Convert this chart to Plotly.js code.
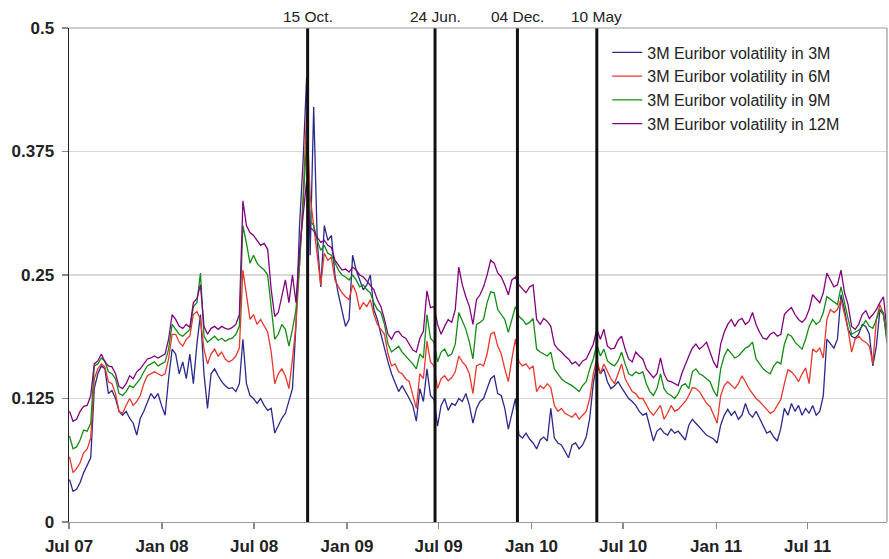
<!DOCTYPE html>
<html>
<head>
<meta charset="utf-8">
<script src="https://cdn.plot.ly/plotly-3.0.1.min.js"></script>
<style>html,body{margin:0;padding:0;background:#fff;}#chart{width:889px;height:559px;}</style>
</head>
<body>
<div id="chart"></div>
<script>
// Weekly observations starting 2 Jul 2007
const startDate = '2007-07-02';
const stepDays = 7;

const vol3M = [
0.043,0.031,0.033,0.040,0.050,0.057,0.065,
0.135,0.150,0.158,0.155,0.130,0.133,
0.125,0.112,0.108,0.112,0.105,0.100,0.088,0.105,0.112,0.122,0.130,0.125,0.130,0.118,0.108,0.145,0.175,
0.170,0.150,0.162,0.145,0.170,0.140,0.180,0.210,0.150,0.115,0.150,0.155,0.148,0.142,0.138,0.135,0.136,0.132,0.140,0.185,0.140,0.128,0.125,0.120,0.125,0.118,0.113,0.115,0.090,0.098,
0.105,0.110,0.122,0.135,0.200,0.300,0.365,0.450,0.270,0.420,0.285,0.238,0.300,0.285,0.290,0.250,0.230,0.215,0.198,0.205,0.270,0.255,0.245,0.235,0.240,0.250,0.215,0.205,0.190,
0.175,0.162,0.150,0.140,0.132,0.138,0.132,0.125,0.118,0.102,0.135,0.122,0.155,0.128,0.124,0.097,0.118,0.125,0.113,0.120,0.118,0.125,0.122,0.130,0.118,0.100,0.115,0.122,0.125,0.135,
0.145,0.148,0.130,0.128,0.115,0.094,0.110,0.125,0.088,0.085,0.090,0.084,0.080,0.074,0.083,0.086,0.082,0.115,0.085,0.080,0.078,0.072,0.065,0.078,0.080,0.074,0.078,0.086,0.105,0.140,
0.160,0.150,0.155,0.142,0.135,0.138,0.142,0.136,0.130,0.125,0.122,0.118,0.112,0.108,0.110,0.095,0.082,0.092,0.095,0.090,0.088,0.094,0.090,0.092,0.088,0.083,0.098,0.104,0.100,0.096,
0.092,0.088,0.086,0.084,0.080,0.098,0.108,0.114,0.108,0.112,0.104,0.108,0.120,0.110,0.106,0.112,0.105,0.098,0.090,0.092,0.086,0.082,0.095,0.115,0.108,0.120,0.112,0.118,0.108,0.115,
0.110,0.118,0.108,0.112,0.128,0.185,0.180,0.176,0.185,0.230,0.215,0.195,0.188,0.186,0.190,0.200,0.198,0.190,0.158,0.178,0.215,0.210,0.188
];

const vol6M = [
0.066,0.050,0.054,0.060,0.070,0.074,0.085,
0.145,0.155,0.160,0.157,0.142,0.140,
0.130,0.112,0.110,0.118,0.125,0.118,0.122,0.128,0.140,0.148,0.150,0.152,0.150,0.148,0.150,0.165,0.190,
0.190,0.182,0.178,0.185,0.188,0.210,0.213,0.205,0.175,0.160,0.170,0.175,0.168,0.172,0.165,0.162,0.164,0.168,0.176,0.255,0.228,0.205,0.210,0.200,0.205,0.198,0.192,0.172,0.140,0.150,
0.155,0.148,0.135,0.165,0.200,0.260,0.330,0.415,0.330,0.300,0.270,0.240,0.272,0.265,0.268,0.245,0.238,0.232,0.228,0.225,0.240,0.232,0.215,0.222,0.218,0.225,0.210,0.200,0.195,
0.190,0.170,0.158,0.160,0.152,0.150,0.145,0.142,0.128,0.115,0.150,0.145,0.183,0.162,0.158,0.135,0.145,0.148,0.143,0.146,0.152,0.168,0.162,0.158,0.150,0.130,0.158,0.160,0.158,0.170,
0.190,0.192,0.178,0.170,0.155,0.142,0.165,0.185,0.162,0.158,0.160,0.155,0.158,0.132,0.138,0.135,0.140,0.136,0.118,0.112,0.115,0.110,0.108,0.106,0.110,0.104,0.108,0.112,0.125,0.150,
0.165,0.150,0.160,0.152,0.145,0.140,0.150,0.160,0.145,0.138,0.132,0.130,0.125,0.125,0.118,0.112,0.108,0.113,0.118,0.104,0.110,0.118,0.112,0.114,0.118,0.122,0.128,0.136,0.135,0.132,
0.126,0.120,0.117,0.108,0.100,0.128,0.138,0.142,0.138,0.135,0.140,0.148,0.142,0.135,0.130,0.125,0.122,0.118,0.113,0.110,0.112,0.118,0.124,0.140,0.154,0.152,0.148,0.142,0.150,0.156,
0.140,0.175,0.172,0.176,0.166,0.205,0.215,0.212,0.215,0.225,0.210,0.195,0.172,0.185,0.188,0.184,0.182,0.178,0.160,0.205,0.220,0.210,0.184
];

const vol9M = [
0.087,0.074,0.076,0.083,0.093,0.092,0.100,
0.158,0.160,0.166,0.163,0.152,0.150,
0.145,0.130,0.128,0.132,0.138,0.136,0.140,0.145,0.152,0.158,0.160,0.162,0.158,0.160,0.162,0.175,0.200,
0.195,0.190,0.188,0.192,0.195,0.218,0.222,0.252,0.188,0.182,0.185,0.188,0.184,0.186,0.183,0.185,0.186,0.190,0.198,0.300,0.282,0.262,0.270,0.262,0.258,0.255,0.250,0.220,0.185,0.190,
0.200,0.195,0.178,0.195,0.215,0.260,0.320,0.385,0.305,0.300,0.285,0.275,0.280,0.272,0.270,0.262,0.255,0.250,0.248,0.245,0.250,0.245,0.238,0.240,0.235,0.232,0.222,0.215,0.212,
0.200,0.180,0.172,0.175,0.178,0.172,0.168,0.165,0.160,0.155,0.170,0.166,0.210,0.186,0.182,0.162,0.172,0.175,0.168,0.170,0.180,0.212,0.204,0.195,0.182,0.165,0.200,0.202,0.205,0.222,
0.233,0.232,0.215,0.210,0.205,0.192,0.205,0.218,0.208,0.205,0.200,0.202,0.206,0.175,0.172,0.170,0.168,0.172,0.155,0.150,0.145,0.142,0.140,0.138,0.135,0.132,0.138,0.142,0.155,0.165,
0.180,0.168,0.175,0.163,0.160,0.158,0.163,0.172,0.160,0.150,0.148,0.152,0.150,0.152,0.140,0.132,0.128,0.135,0.150,0.135,0.130,0.128,0.125,0.130,0.138,0.140,0.135,0.152,0.155,0.150,
0.148,0.145,0.142,0.133,0.127,0.155,0.168,0.175,0.170,0.166,0.168,0.172,0.176,0.178,0.182,0.165,0.160,0.155,0.152,0.150,0.158,0.162,0.160,0.180,0.190,0.188,0.182,0.178,0.175,0.185,
0.198,0.205,0.200,0.203,0.212,0.228,0.225,0.222,0.220,0.238,0.222,0.205,0.190,0.192,0.194,0.198,0.204,0.198,0.196,0.205,0.215,0.212,0.181
];

const vol12M = [
0.112,0.102,0.104,0.112,0.117,0.118,0.128,
0.160,0.163,0.170,0.162,0.158,0.157,
0.150,0.137,0.135,0.140,0.148,0.145,0.152,0.155,0.160,0.165,0.166,0.168,0.166,0.168,0.170,0.185,0.210,
0.205,0.198,0.196,0.200,0.197,0.222,0.226,0.240,0.198,0.190,0.196,0.198,0.195,0.198,0.196,0.195,0.197,0.200,0.210,0.325,0.300,0.293,0.290,0.285,0.280,0.282,0.276,0.235,0.208,0.212,
0.228,0.245,0.222,0.250,0.222,0.275,0.310,0.345,0.298,0.295,0.288,0.283,0.285,0.280,0.278,0.265,0.260,0.255,0.256,0.253,0.258,0.255,0.250,0.248,0.244,0.240,0.235,0.225,0.218,
0.205,0.190,0.185,0.192,0.193,0.188,0.186,0.180,0.174,0.172,0.186,0.193,0.234,0.217,0.218,0.200,0.190,0.198,0.205,0.202,0.215,0.258,0.240,0.228,0.218,0.200,0.225,0.230,0.238,0.250,
0.265,0.262,0.252,0.248,0.240,0.230,0.245,0.248,0.240,0.236,0.232,0.238,0.240,0.205,0.200,0.206,0.203,0.198,0.180,0.175,0.172,0.168,0.165,0.160,0.162,0.158,0.163,0.165,0.172,0.180,
0.195,0.185,0.195,0.178,0.175,0.176,0.184,0.188,0.175,0.165,0.162,0.172,0.168,0.165,0.155,0.150,0.146,0.150,0.166,0.150,0.143,0.142,0.140,0.138,0.150,0.160,0.168,0.176,0.180,0.175,
0.178,0.182,0.172,0.162,0.156,0.180,0.192,0.200,0.205,0.198,0.204,0.206,0.200,0.203,0.212,0.200,0.192,0.186,0.185,0.190,0.192,0.188,0.190,0.210,0.214,0.217,0.210,0.205,0.202,0.206,
0.215,0.230,0.226,0.222,0.232,0.252,0.245,0.238,0.240,0.255,0.232,0.220,0.198,0.195,0.200,0.210,0.214,0.206,0.210,0.215,0.222,0.228,0.194
];

const seriesNames = ['3M Euribor volatility in 3M','3M Euribor volatility in 6M','3M Euribor volatility in 9M','3M Euribor volatility in 12M'];
const seriesColors = ['#2b2a8c','#e8382c','#148c14','#82037f'];

const xTickVals = ['2007-07-01','2008-01-01','2008-07-01','2009-01-01','2009-07-01','2010-01-01','2010-07-01','2011-01-01','2011-07-01'];
const xTickText = ['Jul 07','Jan 08','Jul 08','Jan 09','Jul 09','Jan 10','Jul 10','Jan 11','Jul 11'];
const yTickVals = [0,0.125,0.25,0.375,0.5];
const yTickText = ['0','0.125','0.25','0.375','0.5'];

const eventDates = ['2008-10-15','2009-06-24','2009-12-04','2010-05-10'];
const eventLabels = ['15 Oct.','24 Jun.','04 Dec.','10 May'];

function makeDates(n){
  const out=[]; const d0=new Date(startDate+'T00:00:00Z');
  for(let i=0;i<n;i++){ const d=new Date(d0.getTime()+i*stepDays*86400000); out.push(d.toISOString().slice(0,10)); }
  return out;
}

const allSeries=[vol3M,vol6M,vol9M,vol12M];
const traces = allSeries.map((s,k)=>({
  x: makeDates(s.length), y: s, type:'scatter', mode:'lines', name: seriesNames[k],
  line:{color:seriesColors[k], width:1.3}
}));

const shapes = eventDates.map(d=>({type:'line', xref:'x', yref:'paper', x0:d, x1:d, y0:0, y1:1, line:{color:'#111', width:3}}));
shapes.push({type:'line', xref:'paper', yref:'paper', x0:1, x1:1, y0:0, y1:1, line:{color:'#999', width:1.2}});
shapes.push({type:'line', xref:'paper', yref:'paper', x0:0, x1:1, y0:1, y1:1, line:{color:'#999', width:1.2}});

const annotations = eventDates.map((d,k)=>({x:d, xref:'x', y:1, yref:'paper', yanchor:'bottom', yshift:1, text:eventLabels[k], showarrow:false, font:{size:15.5, color:'#222', family:'Liberation Sans, Arial, sans-serif'}}));

const layout = {
  width:889, height:559,
  margin:{l:69, r:2, t:28, b:37, pad:0},
  paper_bgcolor:'#fff', plot_bgcolor:'#fff',
  font:{family:'Liberation Sans, Arial, sans-serif', color:'#222'},
  showlegend:true,
  legend:{x:0.658, y:0.985, xanchor:'left', yanchor:'top', bgcolor:'rgba(0,0,0,0)', font:{size:16, color:'#222'}, tracegroupgap:0},
  xaxis:{type:'date', range:['2007-07-01','2011-12-05'], tickvals:xTickVals, ticktext:xTickText, ticks:'outside', ticklen:6, tickcolor:'#888', tickwidth:1.2,
    showgrid:false, zeroline:false, showline:true, linecolor:'#999', linewidth:1.2, ticklabelstandoff:2,
    tickfont:{size:17, color:'#222', family:'Liberation Sans, Arial, sans-serif', weight:'bold'}},
  yaxis:{range:[0,0.5], tickvals:yTickVals, ticktext:yTickText, ticks:'outside', ticklen:6, tickcolor:'#888', tickwidth:1.2,
    showgrid:true, gridcolor:'#d9d9d9', gridwidth:1.2, zeroline:false, showline:true, linecolor:'#222', linewidth:1.5, ticklabelstandoff:4,
    tickfont:{size:17, color:'#222', family:'Liberation Sans, Arial, sans-serif', weight:'bold'}},
  shapes:shapes, annotations:annotations
};

Plotly.newPlot('chart', traces, layout, {displayModeBar:false, staticPlot:true});
</script>
</body>
</html>
